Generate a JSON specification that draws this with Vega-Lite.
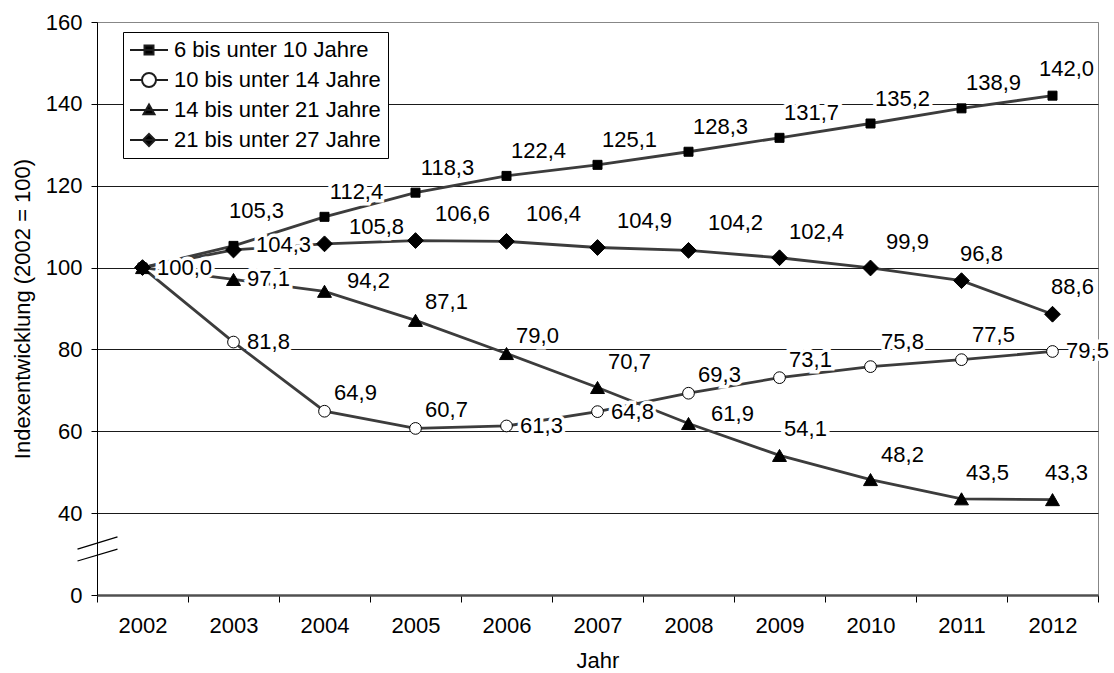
{
  "$schema": "https://vega.github.io/schema/vega-lite/v6.json",
  "width": 1001,
  "height": 573,
  "autosize": {"type": "none"},
  "padding": {"left": 97, "top": 22, "right": 16, "bottom": 78},
  "background": "white",
  "config": {
    "locale": {"number": {"decimal": ",", "thousands": ".", "grouping": [3], "currency": ["", " €"]}},
    "font": "Liberation Sans",
    "view": {"stroke": "#878787", "strokeWidth": 1},
    "text": {"font": "Liberation Sans", "fontSize": 22, "align": "center", "baseline": "middle", "color": "black"},
    "axis": {"labelFont": "Liberation Sans", "titleFont": "Liberation Sans", "labelFontSize": 22, "titleFontSize": 22, "titleFontWeight": "normal", "labelColor": "black", "titleColor": "black"},
    "legend": {"labelFont": "Liberation Sans"}
  },
  "datasets": {
    "Achsenbruch": [
      {"Jahr": 2002, "Index": 28.3, "Index_bis": 31.2},
      {"Jahr": 2002, "Index": 31.2, "Index_bis": 34.2}
    ]
  },
  "data": {"values": [
    {"Jahr": 2002, "Altersgruppe": "6 bis unter 10 Jahre", "Index": 100.0},
    {"Jahr": 2003, "Altersgruppe": "6 bis unter 10 Jahre", "Index": 105.3},
    {"Jahr": 2004, "Altersgruppe": "6 bis unter 10 Jahre", "Index": 112.4},
    {"Jahr": 2005, "Altersgruppe": "6 bis unter 10 Jahre", "Index": 118.3},
    {"Jahr": 2006, "Altersgruppe": "6 bis unter 10 Jahre", "Index": 122.4},
    {"Jahr": 2007, "Altersgruppe": "6 bis unter 10 Jahre", "Index": 125.1},
    {"Jahr": 2008, "Altersgruppe": "6 bis unter 10 Jahre", "Index": 128.3},
    {"Jahr": 2009, "Altersgruppe": "6 bis unter 10 Jahre", "Index": 131.7},
    {"Jahr": 2010, "Altersgruppe": "6 bis unter 10 Jahre", "Index": 135.2},
    {"Jahr": 2011, "Altersgruppe": "6 bis unter 10 Jahre", "Index": 138.9},
    {"Jahr": 2012, "Altersgruppe": "6 bis unter 10 Jahre", "Index": 142.0},
    {"Jahr": 2002, "Altersgruppe": "10 bis unter 14 Jahre", "Index": 100.0},
    {"Jahr": 2003, "Altersgruppe": "10 bis unter 14 Jahre", "Index": 81.8},
    {"Jahr": 2004, "Altersgruppe": "10 bis unter 14 Jahre", "Index": 64.9},
    {"Jahr": 2005, "Altersgruppe": "10 bis unter 14 Jahre", "Index": 60.7},
    {"Jahr": 2006, "Altersgruppe": "10 bis unter 14 Jahre", "Index": 61.3},
    {"Jahr": 2007, "Altersgruppe": "10 bis unter 14 Jahre", "Index": 64.8},
    {"Jahr": 2008, "Altersgruppe": "10 bis unter 14 Jahre", "Index": 69.3},
    {"Jahr": 2009, "Altersgruppe": "10 bis unter 14 Jahre", "Index": 73.1},
    {"Jahr": 2010, "Altersgruppe": "10 bis unter 14 Jahre", "Index": 75.8},
    {"Jahr": 2011, "Altersgruppe": "10 bis unter 14 Jahre", "Index": 77.5},
    {"Jahr": 2012, "Altersgruppe": "10 bis unter 14 Jahre", "Index": 79.5},
    {"Jahr": 2002, "Altersgruppe": "14 bis unter 21 Jahre", "Index": 100.0},
    {"Jahr": 2003, "Altersgruppe": "14 bis unter 21 Jahre", "Index": 97.1},
    {"Jahr": 2004, "Altersgruppe": "14 bis unter 21 Jahre", "Index": 94.2},
    {"Jahr": 2005, "Altersgruppe": "14 bis unter 21 Jahre", "Index": 87.1},
    {"Jahr": 2006, "Altersgruppe": "14 bis unter 21 Jahre", "Index": 79.0},
    {"Jahr": 2007, "Altersgruppe": "14 bis unter 21 Jahre", "Index": 70.7},
    {"Jahr": 2008, "Altersgruppe": "14 bis unter 21 Jahre", "Index": 61.9},
    {"Jahr": 2009, "Altersgruppe": "14 bis unter 21 Jahre", "Index": 54.1},
    {"Jahr": 2010, "Altersgruppe": "14 bis unter 21 Jahre", "Index": 48.2},
    {"Jahr": 2011, "Altersgruppe": "14 bis unter 21 Jahre", "Index": 43.5},
    {"Jahr": 2012, "Altersgruppe": "14 bis unter 21 Jahre", "Index": 43.3},
    {"Jahr": 2002, "Altersgruppe": "21 bis unter 27 Jahre", "Index": 100.0},
    {"Jahr": 2003, "Altersgruppe": "21 bis unter 27 Jahre", "Index": 104.3},
    {"Jahr": 2004, "Altersgruppe": "21 bis unter 27 Jahre", "Index": 105.8},
    {"Jahr": 2005, "Altersgruppe": "21 bis unter 27 Jahre", "Index": 106.6},
    {"Jahr": 2006, "Altersgruppe": "21 bis unter 27 Jahre", "Index": 106.4},
    {"Jahr": 2007, "Altersgruppe": "21 bis unter 27 Jahre", "Index": 104.9},
    {"Jahr": 2008, "Altersgruppe": "21 bis unter 27 Jahre", "Index": 104.2},
    {"Jahr": 2009, "Altersgruppe": "21 bis unter 27 Jahre", "Index": 102.4},
    {"Jahr": 2010, "Altersgruppe": "21 bis unter 27 Jahre", "Index": 99.9},
    {"Jahr": 2011, "Altersgruppe": "21 bis unter 27 Jahre", "Index": 96.8},
    {"Jahr": 2012, "Altersgruppe": "21 bis unter 27 Jahre", "Index": 88.6}
  ]},
  "encoding": {
    "x": {
      "field": "Jahr", "type": "ordinal",
      "scale": {"type": "band", "paddingInner": 0, "paddingOuter": 0},
      "axis": {
        "title": "Jahr", "labelAngle": 0, "tickBand": "extent", "grid": false,
        "domainColor": "#505050", "domainWidth": 2.5, "tickColor": "black", "tickSize": 7, "tickWidth": 1,
        "labelPadding": 13, "titlePadding": 14
      }
    },
    "y": {
      "field": "Index", "type": "quantitative",
      "scale": {"domain": [20, 160], "nice": false, "zero": false},
      "axis": {
        "title": "Indexentwicklung (2002 = 100)",
        "values": [20, 40, 60, 80, 100, 120, 140, 160],
        "labelExpr": "datum.value == 20 ? '0' : datum.label",
        "grid": true,
        "gridColor": {"condition": {"test": "datum.value == 160", "value": "#878787"}, "value": "#1a1a1a"},
        "gridOpacity": {"condition": {"test": "datum.value == 20", "value": 0}, "value": 1},
        "gridWidth": 1,
        "domainColor": "black", "domainWidth": 1, "tickColor": "black", "tickSize": 6,
        "labelPadding": 9, "titlePadding": 11
      }
    }
  },
  "layer": [
    {
      "mark": {"type": "line", "color": "#3c3c3c", "strokeWidth": 2.8},
      "encoding": {"detail": {"field": "Altersgruppe"}}
    },
    {
      "mark": {"type": "point", "opacity": 1, "stroke": "black", "strokeWidth": 1},
      "encoding": {
        "shape": {"field": "Altersgruppe", "legend": null,
          "scale": {"domain": ["6 bis unter 10 Jahre", "10 bis unter 14 Jahre", "14 bis unter 21 Jahre", "21 bis unter 27 Jahre"],
                    "range": ["square", "circle", "triangle-up", "diamond"]}},
        "fill": {"field": "Altersgruppe", "legend": null,
          "scale": {"domain": ["6 bis unter 10 Jahre", "10 bis unter 14 Jahre", "14 bis unter 21 Jahre", "21 bis unter 27 Jahre"],
                    "range": ["black", "white", "black", "black"]}},
        "size": {"field": "Altersgruppe", "legend": null,
          "scale": {"domain": ["6 bis unter 10 Jahre", "10 bis unter 14 Jahre", "14 bis unter 21 Jahre", "21 bis unter 27 Jahre"],
                    "range": [81, 250, 115, 130]}}
      }
    },
    {
      "mark": {"type": "point", "opacity": 0, "strokeWidth": 2},
      "encoding": {
        "shape": {"field": "Altersgruppe", "title": null,
          "scale": {"domain": ["6 bis unter 10 Jahre", "10 bis unter 14 Jahre", "14 bis unter 21 Jahre", "21 bis unter 27 Jahre"],
                    "range": ["M-1.9,0H1.9M-0.45,-0.45H0.45V0.45H-0.45Z",
                              "M-1.9,0H-0.7M0.7,0H1.9M0.7,0A0.7,0.7 0 1,1 -0.7,0A0.7,0.7 0 1,1 0.7,0Z",
                              "M-1.9,0H1.9M0,-0.55L0.55,0.42L-0.55,0.42Z",
                              "M-1.9,0H1.9M0,-0.6L0.6,0L0,0.6L-0.6,0Z"]},
          "legend": {
            "orient": "none", "legendX": 26, "legendY": 10,
            "labelFontSize": 22, "labelColor": "black", "labelLimit": 500,
            "symbolSize": 400, "symbolStrokeWidth": 2, "symbolOpacity": 1,
            "strokeColor": "black", "fillColor": "white", "padding": 7,
            "rowPadding": 8, "symbolOffset": 8, "labelOffset": 14
          }},
        "fill": {"field": "Altersgruppe", "title": null,
          "scale": {"domain": ["6 bis unter 10 Jahre", "10 bis unter 14 Jahre", "14 bis unter 21 Jahre", "21 bis unter 27 Jahre"],
                    "range": ["black", "white", "black", "black"]}},
        "stroke": {"field": "Altersgruppe", "title": null,
          "scale": {"domain": ["6 bis unter 10 Jahre", "10 bis unter 14 Jahre", "14 bis unter 21 Jahre", "21 bis unter 27 Jahre"],
                    "range": ["#1e1e1e", "#1e1e1e", "#1e1e1e", "#1e1e1e"]}}
      }
    },
    {
      "data": {"name": "Achsenbruch"},
      "mark": {"type": "rule", "color": "black", "strokeWidth": 1.2, "xOffset": -65, "x2Offset": -25},
      "encoding": {
        "x": {"field": "Jahr", "type": "ordinal"},
        "x2": {"field": "Jahr"},
        "y": {"field": "Index", "type": "quantitative"},
        "y2": {"field": "Index_bis"}
      }
    },
    {
      "encoding": {"text": {"field": "Index", "type": "quantitative", "format": ".1f"}},
      "layer": [
        {"transform": [{"filter": "indexof(['10|2003','10|2006','10|2007','10|2012','14|2003'], split(datum.Altersgruppe,' ')[0] + '|' + datum.Jahr) >= 0"}],
         "layer": [{"mark": {"type": "text", "dx": 35, "dy": 0, "stroke": "white", "strokeWidth": 7, "fill": "white"}}, {"mark": {"type": "text", "dx": 35, "dy": 0}}]},
        {"transform": [{"filter": "indexof(['6|2002'], split(datum.Altersgruppe,' ')[0] + '|' + datum.Jahr) >= 0"}],
         "layer": [{"mark": {"type": "text", "dx": 42, "dy": 0, "stroke": "white", "strokeWidth": 7, "fill": "white"}}, {"mark": {"type": "text", "dx": 42, "dy": 0}}]},
        {"transform": [{"filter": "indexof(['6|2004','6|2005','6|2006','6|2007','6|2008','6|2009','6|2010','6|2011','10|2010','10|2011','14|2007','14|2010'], split(datum.Altersgruppe,' ')[0] + '|' + datum.Jahr) >= 0"}],
         "layer": [{"mark": {"type": "text", "dx": 32, "dy": -25, "stroke": "white", "strokeWidth": 7, "fill": "white"}}, {"mark": {"type": "text", "dx": 32, "dy": -25}}]},
        {"transform": [{"filter": "indexof(['14|2009','14|2011'], split(datum.Altersgruppe,' ')[0] + '|' + datum.Jahr) >= 0"}],
         "layer": [{"mark": {"type": "text", "dx": 26, "dy": -26, "stroke": "white", "strokeWidth": 7, "fill": "white"}}, {"mark": {"type": "text", "dx": 26, "dy": -26}}]},
        {"transform": [{"filter": "indexof(['6|2003'], split(datum.Altersgruppe,' ')[0] + '|' + datum.Jahr) >= 0"}],
         "layer": [{"mark": {"type": "text", "dx": 23, "dy": -35, "stroke": "white", "strokeWidth": 7, "fill": "white"}}, {"mark": {"type": "text", "dx": 23, "dy": -35}}]},
        {"transform": [{"filter": "indexof(['6|2012','14|2012'], split(datum.Altersgruppe,' ')[0] + '|' + datum.Jahr) >= 0"}],
         "layer": [{"mark": {"type": "text", "dx": 14, "dy": -27, "stroke": "white", "strokeWidth": 7, "fill": "white"}}, {"mark": {"type": "text", "dx": 14, "dy": -27}}]},
        {"transform": [{"filter": "indexof(['10|2004','10|2005','10|2008','10|2009','14|2005','14|2006'], split(datum.Altersgruppe,' ')[0] + '|' + datum.Jahr) >= 0"}],
         "layer": [{"mark": {"type": "text", "dx": 31, "dy": -18, "stroke": "white", "strokeWidth": 7, "fill": "white"}}, {"mark": {"type": "text", "dx": 31, "dy": -18}}]},
        {"transform": [{"filter": "indexof(['14|2004','14|2008'], split(datum.Altersgruppe,' ')[0] + '|' + datum.Jahr) >= 0"}],
         "layer": [{"mark": {"type": "text", "dx": 44, "dy": -10, "stroke": "white", "strokeWidth": 7, "fill": "white"}}, {"mark": {"type": "text", "dx": 44, "dy": -10}}]},
        {"transform": [{"filter": "indexof(['21|2003'], split(datum.Altersgruppe,' ')[0] + '|' + datum.Jahr) >= 0"}],
         "layer": [{"mark": {"type": "text", "dx": 50, "dy": -5, "stroke": "white", "strokeWidth": 7, "fill": "white"}}, {"mark": {"type": "text", "dx": 50, "dy": -5}}]},
        {"transform": [{"filter": "indexof(['21|2004'], split(datum.Altersgruppe,' ')[0] + '|' + datum.Jahr) >= 0"}],
         "layer": [{"mark": {"type": "text", "dx": 52, "dy": -17, "stroke": "white", "strokeWidth": 7, "fill": "white"}}, {"mark": {"type": "text", "dx": 52, "dy": -17}}]},
        {"transform": [{"filter": "indexof(['21|2005','21|2006','21|2007','21|2008'], split(datum.Altersgruppe,' ')[0] + '|' + datum.Jahr) >= 0"}],
         "layer": [{"mark": {"type": "text", "dx": 47, "dy": -27, "stroke": "white", "strokeWidth": 7, "fill": "white"}}, {"mark": {"type": "text", "dx": 47, "dy": -27}}]},
        {"transform": [{"filter": "indexof(['21|2009','21|2010'], split(datum.Altersgruppe,' ')[0] + '|' + datum.Jahr) >= 0"}],
         "layer": [{"mark": {"type": "text", "dx": 37, "dy": -26, "stroke": "white", "strokeWidth": 7, "fill": "white"}}, {"mark": {"type": "text", "dx": 37, "dy": -26}}]},
        {"transform": [{"filter": "indexof(['21|2011','21|2012'], split(datum.Altersgruppe,' ')[0] + '|' + datum.Jahr) >= 0"}],
         "layer": [{"mark": {"type": "text", "dx": 20, "dy": -27, "stroke": "white", "strokeWidth": 7, "fill": "white"}}, {"mark": {"type": "text", "dx": 20, "dy": -27}}]}
      ]
    }
  ],
  "resolve": {"scale": {"shape": "independent", "fill": "independent", "size": "independent", "stroke": "independent"}}
}
